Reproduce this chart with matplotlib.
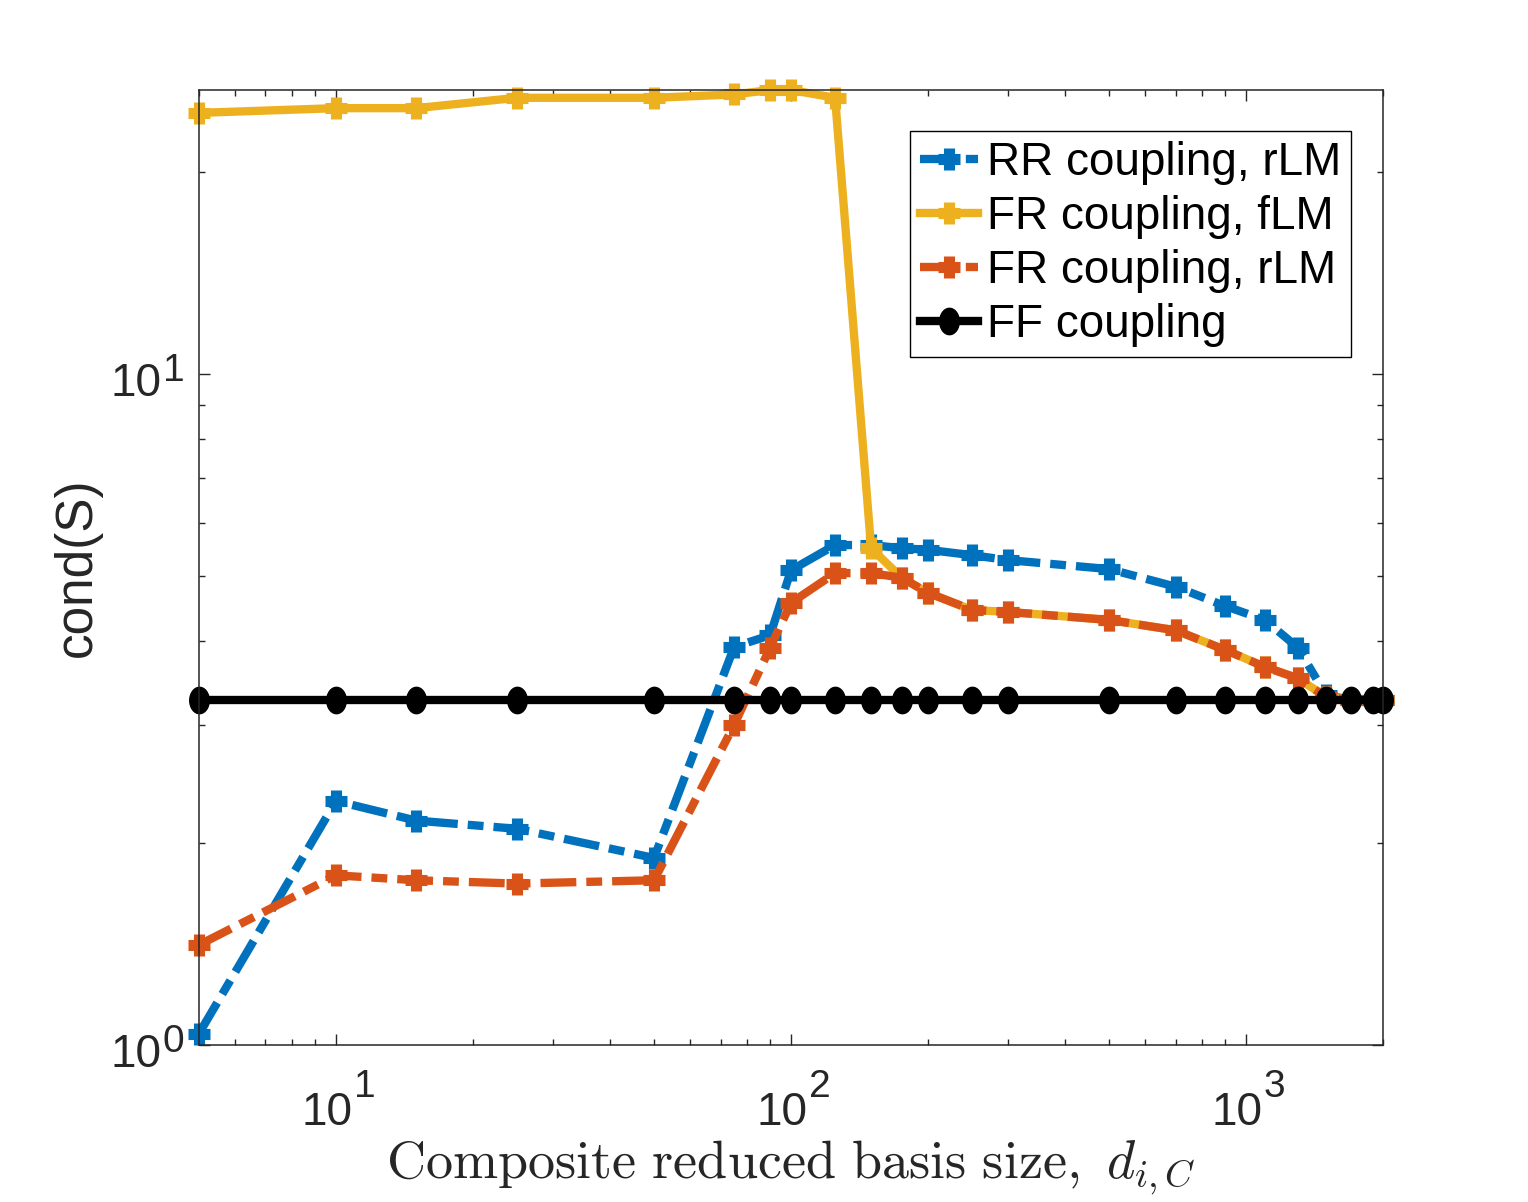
import matplotlib
matplotlib.use('Agg')
import matplotlib.pyplot as plt
import numpy as np
from matplotlib.ticker import NullFormatter, LogLocator

# composite reduced basis size (x) and condition numbers
basis_size = [5, 10, 15, 25, 50, 75, 90, 100, 125, 150, 175, 200, 250, 300,
              500, 700, 900, 1100, 1300, 1500, 1700, 1900, 2000]
rr_rlm = [1.04, 2.31, 2.16, 2.10, 1.90, 3.92, 4.08, 5.10, 5.56, 5.56, 5.50, 5.47,
          5.37, 5.28, 5.12, 4.82, 4.51, 4.30, 3.91, 3.32, 3.27, 3.27, 3.27]
fr_flm = [24.5, 24.9, 24.9, 25.8, 25.8, 26.1, 26.5, 26.5, 25.8, 5.50, 4.97, 4.72,
          4.45, 4.42, 4.30, 4.15, 3.88, 3.66, 3.52, 3.30, 3.27, 3.27, 3.27]
fr_rlm = [1.41, 1.79, 1.76, 1.74, 1.76, 3.00, 3.91, 4.56, 5.05, 5.05, 4.97, 4.72,
          4.45, 4.42, 4.30, 4.15, 3.88, 3.66, 3.52, 3.30, 3.27, 3.27, 3.27]
ff_coupling = [3.27, 3.27, 3.27, 3.27, 3.27, 3.27, 3.27, 3.27, 3.27, 3.27, 3.27, 3.27,
               3.27, 3.27, 3.27, 3.27, 3.27, 3.27, 3.27, 3.27, 3.27, 3.27, 3.27]

labels = ['RR coupling, rLM', 'FR coupling, fLM', 'FR coupling, rLM', 'FF coupling']
x_decades = [1, 2, 3]
y_decades = [0, 1]

plt.rcParams['font.family'] = ['Liberation Sans', 'DejaVu Sans']
plt.rcParams['mathtext.fontset'] = 'cm'

AX_COL = '#262626'
W, H = 1528, 1202
L, R, T, B = 199, 1383, 90, 1045

fig = plt.figure(figsize=(W / 100, H / 100), dpi=100)
ax = fig.add_axes([L / W, (H - B) / H, (R - L) / W, (B - T) / H])

# elliptical dot used by MATLAB for the FF curve
t = np.linspace(0, 2 * np.pi, 41)
dot = np.column_stack([0.74 * np.cos(t), np.sin(t)])

dashdot = (0, (4.3, 1.2, 1.9, 1.2))
lw = 6
pm = dict(marker='+', ms=16, mew=8, clip_on=False)

ax.plot(basis_size, rr_rlm, color='#0072BD', lw=lw, linestyle=dashdot,
        label=labels[0], **pm)
ax.plot(basis_size, fr_flm, color='#EDB120', lw=lw, linestyle='-',
        label=labels[1], **pm)
ax.plot(basis_size, fr_rlm, color='#D95319', lw=lw, linestyle=dashdot,
        label=labels[2], **pm)
ax.plot(basis_size, ff_coupling, color='black', lw=lw, linestyle='-',
        marker=dot, ms=19, label=labels[3], clip_on=False)

ax.set_xscale('log')
ax.set_yscale('log')
ax.set_xlim(5, 2000)
ax.set_ylim(1, 26.5)

ax.xaxis.set_major_locator(LogLocator(base=10))
ax.xaxis.set_minor_locator(LogLocator(base=10, subs=np.arange(2, 10)))
ax.yaxis.set_major_locator(LogLocator(base=10))
ax.yaxis.set_minor_locator(LogLocator(base=10, subs=np.arange(2, 10)))
for axis in (ax.xaxis, ax.yaxis):
    axis.set_major_formatter(NullFormatter())
    axis.set_minor_formatter(NullFormatter())

ax.tick_params(which='both', direction='in', top=True, right=True,
               color=AX_COL, width=1)
ax.tick_params(which='major', length=8)
ax.tick_params(which='minor', length=4.3)
for sp in ax.spines.values():
    sp.set_color(AX_COL)
    sp.set_linewidth(1.1)

# MATLAB style 10^n tick labels (larger exponent than mathtext)
for e in x_decades:
    ax.annotate('10', xy=(10 ** e, 0), xycoords=ax.get_xaxis_transform(),
                xytext=(-9, -46), textcoords='offset pixels',
                ha='center', va='top', fontsize=33, color=AX_COL)
    ax.annotate(str(e), xy=(10 ** e, 0), xycoords=ax.get_xaxis_transform(),
                xytext=(18, -24), textcoords='offset pixels',
                ha='left', va='top', fontsize=28, color=AX_COL)
for e in y_decades:
    ax.annotate('10', xy=(0, 10 ** e), xycoords=ax.get_yaxis_transform(),
                xytext=(-37, -10), textcoords='offset pixels',
                ha='right', va='center', fontsize=33, color=AX_COL)
    ax.annotate(str(e), xy=(0, 10 ** e), xycoords=ax.get_yaxis_transform(),
                xytext=(-36, 21), textcoords='offset pixels',
                ha='left', va='top', fontsize=28, color=AX_COL)

ax.set_xlabel(r'$\mathrm{Composite\ reduced\ basis\ size,}\ d_{i,C}$',
              fontsize=39, color=AX_COL, va='baseline')
ax.xaxis.set_label_coords(0.5, -(1178 - B) / (B - T))
ax.set_ylabel('cond(S)', fontsize=37, color=AX_COL, va='center')
ax.yaxis.set_label_coords(-(L - 77) / (R - L), 0.5)

leg = ax.legend(loc='upper right', bbox_to_anchor=(1351 / W, 1 - 131 / H),
                bbox_transform=fig.transFigure, borderaxespad=0, fontsize=33,
                fancybox=False, framealpha=1, edgecolor='black',
                handlelength=1.25, handletextpad=0.2, borderpad=0.22,
                labelspacing=0.22)
leg.get_frame().set_linewidth(1.0)

fig.savefig('out.png', dpi=100, facecolor='white')
